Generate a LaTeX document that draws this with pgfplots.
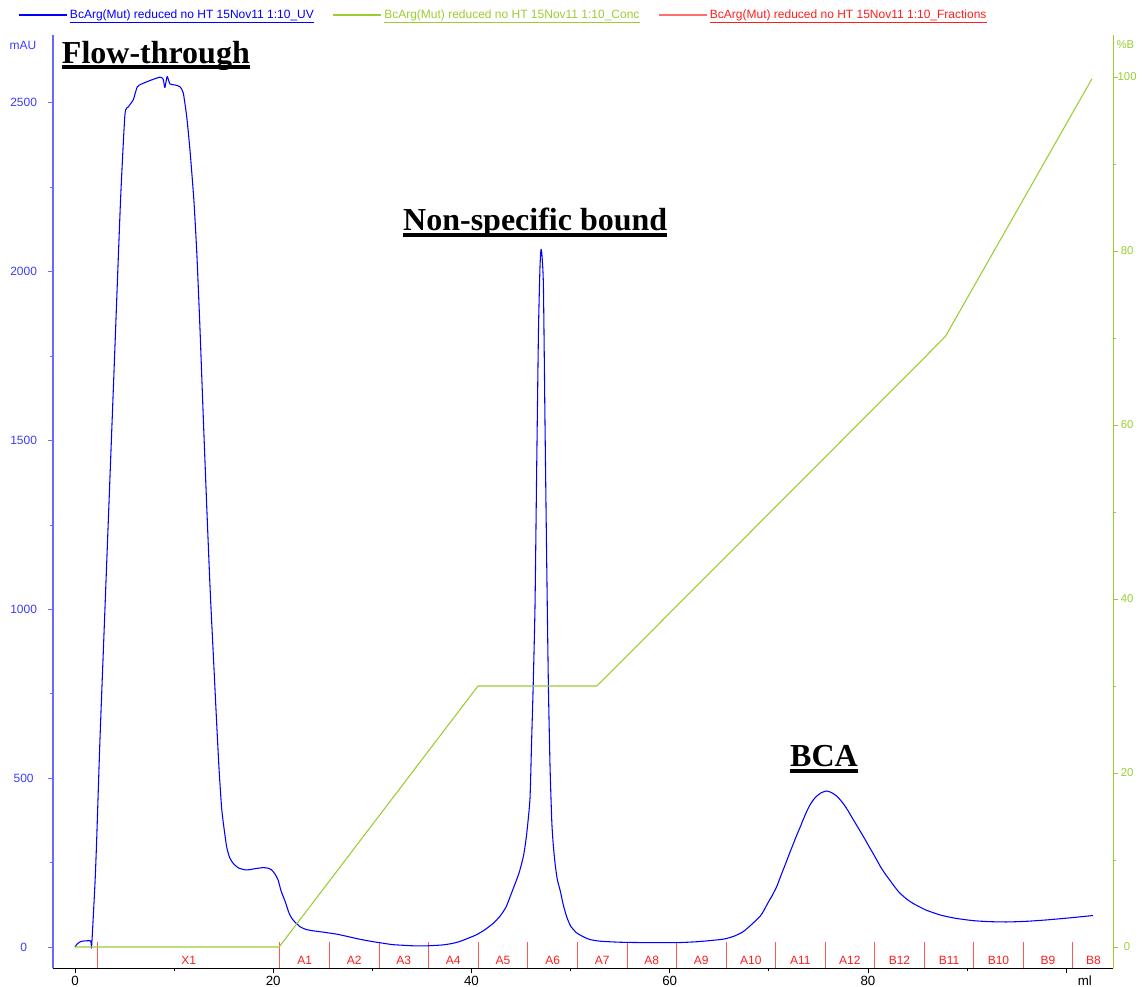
\documentclass[border=0pt]{standalone}
\usepackage{fontspec}
\setmainfont{Liberation Sans}
\newfontfamily\annfont{Liberation Serif}
\usepackage{pgfplots}
\usepackage{pgfplotstable}
\pgfplotsset{compat=1.18}
\definecolor{uvblue}{RGB}{0,0,255}
\definecolor{axblue}{RGB}{105,105,255}
\definecolor{lblblue}{RGB}{60,60,255}
\definecolor{concgreen}{RGB}{154,205,50}
\definecolor{fracred}{RGB}{255,30,30}

% thick underline used by the peak annotations
\newcommand{\thickul}[1]{\setbox0=\hbox{#1}\rlap{\copy0}\rule[-4.5pt]{\wd0}{3pt}}

\pgfplotstableread{
ml mAU
0.0 0
0.2 8
0.45 14
0.7 17
1.58 18
1.68 1
2.02 189
2.19 317
2.52 613
3.0 982
3.5 1367
4.0 1752
4.6 2213
5.04 2464
5.38 2488
5.88 2509
6.28 2547
6.73 2556
7.56 2566
8.57 2576
8.9 2570
9.07 2545
9.3 2578
9.58 2556
10.08 2553
10.58 2548
10.92 2530
11.27 2460
11.6 2361
12.0 2210
12.3 2050
12.6 1840
12.95 1565
13.3 1300
13.65 1050
14.0 840
14.3 660
14.55 520
14.8 410
15.0 360
15.3 297
15.6 265
15.95 248
16.5 234
17.3 228
18.2 232
19.0 235
19.5 233
19.85 228
20.2 215
20.5 198
20.8 165
21.2 135
21.6 100
22.0 80
22.7 60
23.3 52
24.0 48
25.0 44
26.4 38
27.5 31
28.7 23
30.0 16
31.1 11
32.0 7
33.1 5
34.0 3.5
35.1 3
36.0 4
37.1 6
38.0 10
38.8 16
39.6 25
40.5 36
41.3 50
42.2 70
42.9 92
43.5 119
44.15 168
44.8 219
45.25 270
45.55 329
45.9 437
46.06 600
46.23 776
46.41 1007
46.58 1416
46.76 1823
46.91 2010
47.01 2065
47.11 2050
47.26 1958
47.42 1551
47.59 1143
47.76 776
47.93 532
48.11 368
48.26 300
48.44 246
48.66 200
48.96 166
49.26 125
49.6 90
50.0 62
50.6 42
51.3 30
51.95 22
53.0 17
55.0 14
57.0 13
59.0 13
61.0 13
63.0 16
65.4 23
66.5 32
67.4 45
68.2 65
69.1 90
69.5 108
69.9 130
70.35 153
70.8 179
71.1 202
71.4 225
71.75 251
72.1 278
72.45 304
72.8 330
73.15 354
73.45 376
73.8 400
74.1 418
74.45 434
74.8 446
75.3 457
75.83 462
76.1 460
76.4 456
76.8 448
77.2 436
77.6 421
78.0 403
78.4 383
78.85 361
79.3 339
79.7 319
80.1 298
80.5 278
80.9 257
81.3 236
81.75 216
82.2 198
82.7 178
83.2 160
83.9 142
84.55 129
85.8 110
87.25 95
88.8 85
90.6 78
92.2 75
94.0 74
96.0 76
98.0 80
100.3 86
102.7 93
}\uvdata

\pgfplotstableread{
ml B
0 0
20.6 0
40.66 30
52.66 30
87.8 70.15
102.6 99.8
}\concdata

\begin{document}
\begin{tikzpicture}
\begin{axis}[
name=ax,
at={(0,0)}, anchor=south west,
width=795.6pt, height=700.1pt, scale only axis,
xmin=-2.25, xmax=104.77, ymin=-63.7, ymax=2701,
axis x line*=bottom, axis y line*=left,
x axis line style={black, line width=0.9pt},
y axis line style={axblue, line width=1.3pt},
tick align=outside, major tick length=3.75pt, minor tick length=2.25pt,
xtick={0,20,...,100}, xticklabels={0,20,40,60,80,{}}, minor x tick num=1,
ytick={0,500,...,2500}, minor y tick num=1,
xtick style={black, line width=0.5pt},
ytick style={axblue, line width=0.6pt},
/pgf/number format/assume math mode=true,
/pgf/number format/1000 sep={},
scaled y ticks=false,
xticklabel style={font=\fontsize{10}{11}\selectfont, anchor=center, yshift=-5.5pt},
yticklabel style={font=\fontsize{9}{10}\selectfont, text=lblblue, anchor=center, xshift=-18pt},
xlabel={ml},
xlabel style={font=\fontsize{10}{11}\selectfont, at={(axis description cs:0.973,0)}, anchor=center, yshift=-9pt},
ylabel={mAU},
ylabel style={font=\fontsize{9}{10}\selectfont, text=lblblue, rotate=-90, at={(axis description cs:0,1)}, anchor=center, xshift=-22.3pt, yshift=-7.5pt},
unbounded coords=jump,
]
% fraction boundaries
\addplot[fracred!75, line width=0.6pt, forget plot] coordinates {
(2.28,15) (2.28,-63.7) (2.28,nan)
(20.66,15) (20.66,-63.7) (20.66,nan)
(25.67,15) (25.67,-63.7) (25.67,nan)
(30.67,15) (30.67,-63.7) (30.67,nan)
(35.67,15) (35.67,-63.7) (35.67,nan)
(40.66,15) (40.66,-63.7) (40.66,nan)
(45.69,15) (45.69,-63.7) (45.69,nan)
(50.69,15) (50.69,-63.7) (50.69,nan)
(55.69,15) (55.69,-63.7) (55.69,nan)
(60.68,15) (60.68,-63.7) (60.68,nan)
(65.68,15) (65.68,-63.7) (65.68,nan)
(70.68,15) (70.68,-63.7) (70.68,nan)
(75.67,15) (75.67,-63.7) (75.67,nan)
(80.68,15) (80.68,-63.7) (80.68,nan)
(85.68,15) (85.68,-63.7) (85.68,nan)
(90.67,15) (90.67,-63.7) (90.67,nan)
(95.67,15) (95.67,-63.7) (95.67,nan)
(100.66,15) (100.66,-63.7)
};
% fraction names
\addplot[only marks, mark=*, mark size=0pt, draw=none, fill=none, forget plot,
  point meta=explicit symbolic, nodes near coords, nodes near coords align=center,
  every node near coord/.append style={font=\fontsize{9}{10}\selectfont, text=fracred, inner sep=0pt}]
coordinates {
(11.47,-41)[X1] (23.17,-41)[A1] (28.17,-41)[A2] (33.17,-41)[A3] (38.17,-41)[A4]
(43.18,-41)[A5] (48.19,-41)[A6] (53.19,-41)[A7] (58.19,-41)[A8] (63.18,-41)[A9]
(68.18,-41)[A10] (73.18,-41)[A11] (78.18,-41)[A12] (83.18,-41)[B12] (88.18,-41)[B11]
(93.17,-41)[B10] (98.17,-41)[B9] (102.75,-41)[B8]
};
\addplot[uvblue, line width=0.8pt, line join=round, smooth, tension=0.35, forget plot] table[x=ml, y=mAU] {\uvdata};
\node[anchor=base west, inner sep=0pt, font=\annfont\fontsize{24}{26}\selectfont\bfseries] at (axis cs:-1.34,2618) {\thickul{Flow-through}};
\node[anchor=base west, inner sep=0pt, font=\annfont\fontsize{24}{26}\selectfont\bfseries] at (axis cs:33.09,2121) {\thickul{Non-specific bound}};
\node[anchor=base west, inner sep=0pt, font=\annfont\fontsize{24}{26}\selectfont\bfseries] at (axis cs:72.13,533) {\thickul{BCA}};
\end{axis}

\begin{axis}[
at={(0,0)}, anchor=south west,
width=795.6pt, height=700.1pt, scale only axis,
xmin=-2.25, xmax=104.77, ymin=-2.47, ymax=104.83,
axis x line=none, axis y line*=right,
y axis line style={concgreen, line width=1.3pt},
tick align=outside, major tick length=3.75pt, minor tick length=2.25pt,
ytick={0,20,...,100}, minor y tick num=1,
ytick style={concgreen, line width=0.6pt},
/pgf/number format/assume math mode=true,
yticklabel style={font=\fontsize{8.5}{9}\selectfont, text=concgreen, anchor=center, xshift=6.5pt},
ylabel={\%B},
ylabel style={font=\fontsize{8.5}{9}\selectfont, text=concgreen, rotate=-90, at={(axis description cs:1,1)}, anchor=center, xshift=9pt, yshift=-7.5pt},
legend columns=3,
legend cell align=left,
legend style={draw=none, fill=none, inner sep=0pt, at={(rel axis cs:0,1)}, anchor=west,
  xshift=-26pt, yshift=15pt, font=\fontsize{9}{10}\selectfont,
  /tikz/every even column/.append style={column sep=12pt}},
legend image code/.code={\draw[#1] (0pt,0pt) -- (36pt,0pt);},
]
\addlegendimage{uvblue, line width=0.8pt}
\addlegendentry{\textcolor{uvblue}{\underline{BcArg(Mut) reduced no HT 15Nov11 1:10\_UV}}}
\addplot[concgreen, line width=0.8pt] table[x=ml, y=B] {\concdata};
\addlegendentry{\textcolor{concgreen}{\underline{BcArg(Mut) reduced no HT 15Nov11 1:10\_Conc}}}
\addlegendimage{fracred!65, line width=0.8pt}
\addlegendentry{\textcolor{fracred}{\underline{BcArg(Mut) reduced no HT 15Nov11 1:10\_Fractions}}}
\end{axis}
\pgfresetboundingbox
\path[use as bounding box] (ax.south west) ++(-39.5pt,-13.9pt) rectangle ++(856.5pt,740.25pt);
\end{tikzpicture}
\end{document}
